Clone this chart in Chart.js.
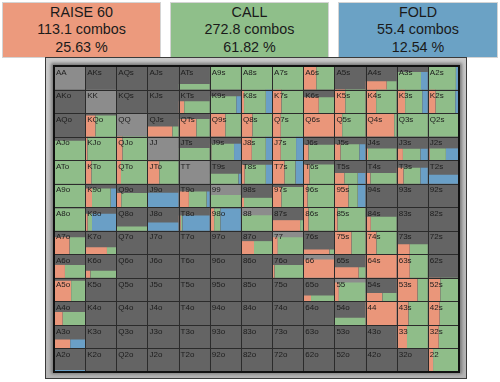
<!DOCTYPE html>
<html>
<head>
<meta charset="utf-8">
<script src="https://cdn.jsdelivr.net/npm/chart.js@4.4.1/dist/chart.umd.min.js"></script>
<style>
  html,body{margin:0;padding:0;background:#fff;}
  body{width:500px;height:382px;position:relative;overflow:hidden;font-family:"Liberation Sans",Arial,sans-serif;}
  .hdr{position:absolute;top:2px;height:53px;width:157px;border:1px solid #d4d4d4;text-align:center;color:#1a1a1a;font-size:14.3px;line-height:17.4px;padding-top:1px;}
  #frame{position:absolute;left:45px;top:57px;width:420px;height:320px;border:1px solid #3a3a3a;background:linear-gradient(#c9c9c9,#b4b4b4);}
  #inner{position:absolute;left:53px;top:65px;width:407px;height:307px;box-shadow:0 0 3px 2px #7a7a7a;background:#646464;}
  #c{position:absolute;left:0;top:0;}
</style>
</head>
<body>
<div class="hdr" style="left:2px;background:#EC9A7D;">RAISE 60<br>113.1 combos<br>25.63 %</div>
<div class="hdr" style="left:170px;background:#8FBF8A;">CALL<br>272.8 combos<br>61.82 %</div>
<div class="hdr" style="left:338px;width:158px;background:#6BA2C5;">FOLD<br>55.4 combos<br>12.54 %</div>
<div id="frame"></div>
<div id="inner"></div>
<canvas id="c" width="500" height="382"></canvas>
<script>
// Hand ranks (tick labels of the grid)
const ranks = ["A","K","Q","J","T","9","8","7","6","5","4","3","2"];

// Fraction of each hand's combos in the range (bar height inside the cell)
const weights = [
  [0,0,0,0,0.23,1,1,1,1,0,0.35,0.75,1],
  [0,0,0,0,0.5,0.72,1,1,0.67,1,1,1,1],
  [0,0.9,0,0.43,0.75,1,1,1,1,1,1,1,1],
  [0.82,1,1,0,0.52,0.7,1,1,0.65,0.68,0.5,0.48,0.5],
  [1,1,1,0.95,0,0.42,0.8,1,0.82,0.45,0.45,0.68,0.38],
  [1,0.8,0.6,0.62,0.67,0.52,0.4,0.86,1,1,0,0,0],
  [0.95,0.72,0.18,0.35,0.65,0.95,0.66,0.45,1,1,0.6,0,0],
  [0.72,0.3,0,0,0,0,0.56,0.72,0.2,1,1,0.43,0],
  [0.55,0.3,0,0,0,0,0,0.55,0.78,0.45,1,1,0],
  [0.88,0,0,0,0,0,0,0,0.25,0.8,0.36,1,1],
  [0.55,0,0,0,0,0,0,0,0,0.3,1,1,1],
  [0.38,0,0,0,0,0,0,0,0,0,0,1,1],
  [0.08,0,0,0,0,0,0,0,0,0,0,0,1]
];
// Share of RAISE 60 within each hand
const raiseFreq = [
  [0,0,0,0,0,0,0,0,0.42,0,0.68,0,0],
  [0,0,0,0,0.18,0,0.1,0.3,0.5,0.35,0.34,0.27,0.25],
  [0,0.33,0,0.8,0.57,0.5,0.37,0.28,1,0.25,0.92,0,0],
  [0,0.07,0.2,0,0,0.05,0.35,0.28,0.17,0.2,0.08,0.2,0.06],
  [0,0.2,0.15,0.38,0,0,0.12,0.4,0.2,0.32,0.16,0.22,0],
  [0,0.22,0.16,0,0.33,0,0.1,0.3,0.14,0.45,0,0,0],
  [0,0.08,0,0,0.07,0.14,0,0.9,0.17,0.1,0.17,0,0],
  [0.5,0.7,0,0,0,0,0.42,0.18,0.84,0.55,0.35,0.42,0],
  [0.35,0.17,0,0,0,0,0,0.08,1,0.78,1,0.42,0],
  [0.55,0,0,0,0,0,0,0,0.25,0.14,0.54,0.67,0.4],
  [0.28,0,0,0,0,0,0,0,0,0,1,0.38,0.38],
  [0.52,0,0,0,0,0,0,0,0,0,0,0.33,0.35],
  [0,0,0,0,0,0,0,0,0,0,0,0,0.17]
];
// Share of CALL within each hand
const callFreq = [
  [0,0,0,0,1,1,1,1,0.58,0,0.32,0.78,0.9],
  [0,0,0,0,0.82,0.85,0.7,0.7,0.5,0.65,0.66,0.55,0.63],
  [0,0.67,0,0.2,0.43,0.5,0.63,0.72,0,0.75,0.08,1,1],
  [1,0.93,0.8,0,1,0.73,0.45,0.49,0.83,0.6,0.92,0.56,0.52],
  [1,0.8,0.85,0.62,0,0.92,0.68,0.35,0.8,0.43,0.84,0.54,0],
  [1,0.6,0.84,0,0.57,1,0.9,0.7,0.86,0.3,0,0,0],
  [1,0.14,1,0,0.05,0.2,1,0.1,0.83,0.9,0.83,0,0],
  [0.5,0.3,0,0,0,0,0.58,0.82,0.16,0.45,0.65,0.58,0],
  [0.65,0.83,0,0,0,0,0,0.92,0,0.22,0,0.58,0],
  [0.45,0,0,0,0,0,0,0,0.75,0.86,0.46,0.33,0.6],
  [0.72,0,0,0,0,0,0,0,0,1,0,0.62,0.62],
  [0,0,0,0,0,0,0,0,0,0,0,0.67,0.65],
  [0,0,0,0,0,0,0,0,0,0,0,0,0.83]
];
// Share of FOLD within each hand
const foldFreq = [
  [0,0,0,0,0,0,0,0,0,0,0,0.22,0.1],
  [0,0,0,0,0,0.15,0.2,0,0,0,0,0.18,0.12],
  [0,0,0,0,0,0,0,0,0,0,0,0,0],
  [0,0,0,0,0,0.22,0.2,0.23,0,0.2,0,0.24,0.42],
  [0,0,0,0,0,0.08,0.2,0.25,0,0.25,0,0.24,1],
  [0,0.18,0,1,0.1,0,0,0,0,0.25,0,0,0],
  [0,0.78,0,1,0.88,0.66,0,0,0,0,0,0,0],
  [0,0,0,0,0,0,0,0,0,0,0,0,0],
  [0,0,0,0,0,0,0,0,0,0,0,0,0],
  [0,0,0,0,0,0,0,0,0,0,0,0,0],
  [0,0,0,0,0,0,0,0,0,0,0,0,0],
  [0.48,0,0,0,0,0,0,0,0,0,0,0,0],
  [1,0,0,0,0,0,0,0,0,0,0,0,0]
];

const actionColors = ["#EA967A", "#8FBD89", "#6A9FC6"];
const pairBg = "#8C8C8C", cellBg = "#646464";

function handName(r, c) {
  if (r === c) return ranks[r] + ranks[c];
  if (c > r) return ranks[r] + ranks[c] + "s";
  return ranks[c] + ranks[r] + "o";
}

function rect(x0, x1, yTop, yBottom, color, order) {
  return {
    type: "line",
    data: [{x: x0, y: yTop}, {x: x1, y: yTop}],
    fill: {value: yBottom},
    backgroundColor: color,
    borderColor: color,
    borderWidth: 0,
    pointRadius: 0,
    tension: 0,
    order: order
  };
}

const datasets = [];
for (let r = 0; r < 13; r++) {
  for (let c = 0; c < 13; c++) {
    datasets.push(rect(c, c + 1, r, r + 1, r === c ? pairBg : cellBg, 3));
    const w = weights[r][c];
    if (w > 0) {
      const parts = [raiseFreq[r][c], callFreq[r][c], foldFreq[r][c]];
      let x0 = c;
      parts.forEach((f, k) => {
        if (f > 0) {
          datasets.push(rect(x0, x0 + f, r + 1 - w, r + 1, actionColors[k], 1));
          x0 += f;
        }
      });
    }
  }
}

const cellGrid = {
  id: "cellGrid",
  afterDatasetsDraw(chart) {
    const {ctx, scales: {x, y}} = chart;
    ctx.save();
    // labels
    ctx.font = '8px "Liberation Sans", Arial, sans-serif';
    ctx.fillStyle = "#1c1c1c";
    ctx.textBaseline = "top";
    ctx.textAlign = "left";
    for (let r = 0; r < 13; r++) {
      for (let c = 0; c < 13; c++) {
        ctx.fillText(handName(r, c), x.getPixelForValue(c) + 2, y.getPixelForValue(r) + 2.5);
      }
    }
    // cell borders
    ctx.strokeStyle = "#2b2b2b";
    ctx.lineWidth = 1;
    ctx.beginPath();
    for (let i = 0; i <= 13; i++) {
      const px = Math.round(x.getPixelForValue(i)) + 0.5;
      const py = Math.round(y.getPixelForValue(i)) + 0.5;
      ctx.moveTo(px, y.getPixelForValue(0));
      ctx.lineTo(px, y.getPixelForValue(13));
      ctx.moveTo(x.getPixelForValue(0), py);
      ctx.lineTo(x.getPixelForValue(13), py);
    }
    ctx.stroke();
    ctx.strokeStyle = "#111";
    ctx.lineWidth = 2;
    ctx.strokeRect(x.getPixelForValue(0), y.getPixelForValue(0),
      x.getPixelForValue(13) - x.getPixelForValue(0), y.getPixelForValue(13) - y.getPixelForValue(0));
    ctx.restore();
  }
};

new Chart(document.getElementById("c"), {
  type: "line",
  data: {datasets},
  options: {
    responsive: false,
    animation: false,
    events: [],
    layout: {padding: {left: 54, top: 66, right: 41, bottom: 10}},
    scales: {
      x: {type: "linear", min: 0, max: 13, display: false},
      y: {type: "linear", min: 0, max: 13, reverse: true, display: false}
    },
    plugins: {legend: {display: false}, tooltip: {enabled: false}, title: {display: false}}
  },
  plugins: [cellGrid]
});
</script>
</body>
</html>
